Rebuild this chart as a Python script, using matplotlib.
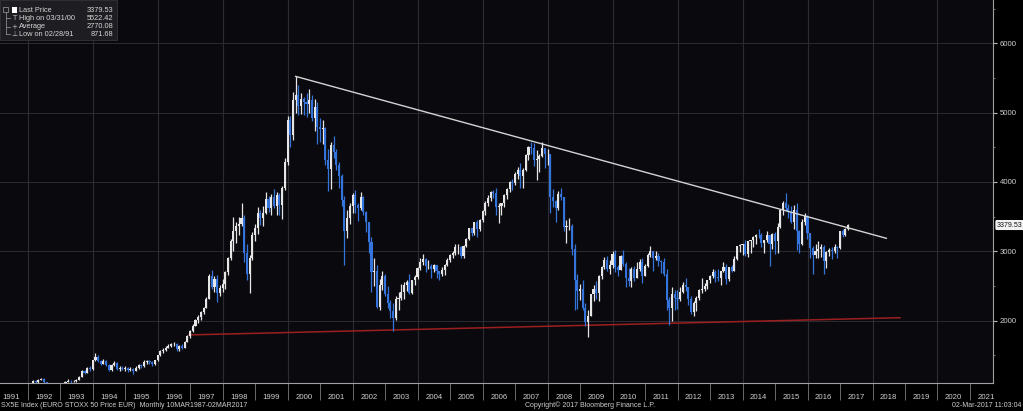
import numpy as np
import pandas as pd
import matplotlib
matplotlib.use("Agg")
import matplotlib.pyplot as plt
import matplotlib.dates as mdates
from matplotlib.patches import Rectangle
from matplotlib.lines import Line2D

plt.rcParams['font.family'] = ['Liberation Sans', 'DejaVu Sans']

# SX5E monthly bars, Jan 1992 .. Mar 2017 (month end)
first_open = 1000
closes = [
    1080, 1130, 1110, 1150, 1165, 1115, 1030, 990, 975, 985, 1005, 1035,      # 1992
    1060, 1120, 1135, 1125, 1130, 1150, 1195, 1275, 1245, 1320, 1300, 1433,   # 1993
    1480, 1420, 1380, 1420, 1360, 1290, 1360, 1390, 1300, 1320, 1310, 1320,   # 1994
    1290, 1310, 1280, 1320, 1360, 1340, 1410, 1420, 1400, 1370, 1430, 1507,   # 1995
    1560, 1580, 1610, 1640, 1660, 1670, 1590, 1640, 1610, 1700, 1780, 1850,   # 1996
    1930, 2010, 2060, 2120, 2180, 2320, 2640, 2480, 2600, 2400, 2470, 2530,   # 1997
    2700, 2900, 3150, 3300, 3360, 3400, 3480, 2980, 2670, 2900, 3230, 3340,   # 1998
    3550, 3480, 3560, 3760, 3620, 3790, 3660, 3810, 3670, 3920, 4290, 4900,   # 1999
    4680, 5180, 5250, 5100, 5200, 5150, 5120, 5180, 4920, 5080, 4790, 4770,   # 2000
    4780, 4320, 4190, 4530, 4430, 4240, 4090, 3740, 3300, 3480, 3660, 3810,   # 2001
    3670, 3630, 3780, 3570, 3430, 3130, 2700, 2710, 2200, 2520, 2650, 2390,   # 2002
    2250, 2140, 2040, 2320, 2330, 2420, 2520, 2560, 2400, 2580, 2630, 2760,   # 2003
    2840, 2890, 2790, 2790, 2740, 2810, 2720, 2670, 2730, 2810, 2880, 2950,   # 2004
    2980, 3060, 3060, 2930, 3080, 3180, 3330, 3260, 3430, 3320, 3450, 3580,   # 2005
    3690, 3770, 3850, 3840, 3640, 3650, 3690, 3810, 3900, 4000, 3990, 4120,   # 2006
    4180, 4090, 4180, 4390, 4510, 4490, 4320, 4330, 4380, 4490, 4400, 4400,   # 2007
    3790, 3720, 3630, 3830, 3780, 3350, 3370, 3370, 3040, 2590, 2430, 2450,   # 2008
    2180, 1980, 2070, 2380, 2450, 2400, 2640, 2780, 2870, 2750, 2800, 2960,   # 2009
    2780, 2730, 2930, 2820, 2610, 2570, 2740, 2620, 2750, 2840, 2650, 2790,   # 2010
    2950, 3010, 2910, 2940, 2860, 2850, 2670, 2300, 2180, 2390, 2330, 2320,   # 2011
    2420, 2510, 2480, 2310, 2120, 2260, 2330, 2440, 2450, 2500, 2580, 2640,   # 2012
    2700, 2630, 2620, 2710, 2770, 2600, 2770, 2720, 2890, 3070, 3090, 3110,   # 2013
    2960, 3150, 3160, 3200, 3240, 3230, 3120, 3170, 3230, 3110, 3250, 3150,   # 2014
    3350, 3600, 3700, 3620, 3570, 3420, 3600, 3290, 3100, 3420, 3510, 3270,   # 2015
    3050, 2950, 3000, 3030, 3060, 2860, 2990, 3020, 3000, 3060, 3050, 3290,   # 2016
    3230, 3320, 3379.53,                                                      # 2017
]
highs = [
    1100, 1150, 1145, 1160, 1180, 1170, 1120, 1050, 1010, 1020, 1020, 1045,
    1075, 1135, 1160, 1150, 1145, 1165, 1200, 1290, 1290, 1335, 1345, 1440,
    1530, 1500, 1440, 1450, 1430, 1380, 1370, 1420, 1400, 1350, 1350, 1340,
    1330, 1330, 1320, 1340, 1380, 1380, 1430, 1440, 1430, 1420, 1440, 1510,
    1580, 1600, 1630, 1660, 1680, 1690, 1680, 1650, 1660, 1710, 1790, 1870,
    1950, 2030, 2080, 2140, 2200, 2340, 2680, 2730, 2650, 2660, 2510, 2600,
    2720, 2920, 3180, 3490, 3420, 3500, 3700, 3520, 3100, 2950, 3280, 3400,
    3640, 3600, 3650, 3850, 3800, 3820, 3900, 3850, 3840, 3940, 4350, 4950,
    4950, 5300, 5522, 5400, 5280, 5230, 5290, 5340, 5250, 5200, 5150, 4920,
    4890, 4800, 4470, 4580, 4670, 4480, 4290, 4120, 3800, 3600, 3700, 3840,
    3880, 3690, 3860, 3800, 3580, 3420, 3200, 2900, 2800, 2600, 2720, 2670,
    2500, 2300, 2260, 2350, 2410, 2530, 2560, 2580, 2680, 2580, 2660, 2770,
    2900, 2960, 2910, 2880, 2820, 2820, 2810, 2720, 2770, 2820, 2900, 2960,
    3000, 3100, 3110, 3080, 3090, 3190, 3340, 3340, 3430, 3450, 3470, 3600,
    3720, 3810, 3870, 3890, 3910, 3690, 3700, 3820, 3910, 4020, 4040, 4140,
    4210, 4270, 4200, 4410, 4520, 4570, 4560, 4460, 4400, 4570, 4480, 4480,
    4400, 3900, 3740, 3870, 3910, 3790, 3450, 3480, 3390, 3100, 2680, 2530,
    2580, 2260, 2160, 2390, 2510, 2570, 2660, 2790, 2920, 2930, 2880, 3000,
    3020, 2800, 2950, 3020, 2840, 2760, 2770, 2790, 2850, 2890, 2900, 2820,
    2980, 3070, 3010, 3010, 2970, 2880, 2900, 2750, 2340, 2480, 2440, 2440,
    2480, 2560, 2610, 2480, 2350, 2290, 2350, 2450, 2620, 2550, 2580, 2660,
    2750, 2730, 2740, 2720, 2840, 2820, 2780, 2810, 2940, 3080, 3100, 3110,
    3160, 3150, 3170, 3220, 3250, 3320, 3270, 3170, 3290, 3230, 3260, 3280,
    3410, 3610, 3730, 3836, 3680, 3660, 3670, 3690, 3310, 3460, 3560, 3530,
    3270, 3070, 3110, 3150, 3110, 3090, 3010, 3050, 3060, 3110, 3080, 3300,
    3320, 3340, 3400,
]
lows = [
    1000, 1070, 1095, 1105, 1140, 1100, 1020, 970, 950, 960, 975, 995,
    1020, 1055, 1110, 1100, 1110, 1120, 1140, 1190, 1225, 1240, 1275, 1290,
    1420, 1400, 1360, 1370, 1340, 1270, 1280, 1350, 1290, 1280, 1290, 1270,
    1260, 1270, 1230, 1270, 1310, 1320, 1330, 1380, 1370, 1340, 1360, 1420,
    1490, 1540, 1560, 1600, 1620, 1640, 1560, 1570, 1590, 1600, 1690, 1750,
    1840, 1920, 1970, 2010, 2100, 2180, 2310, 2460, 2420, 2270, 2350, 2420,
    2450, 2660, 2880, 3000, 3120, 3240, 3360, 2850, 2580, 2400, 2880, 3150,
    3250, 3380, 3370, 3540, 3570, 3530, 3620, 3530, 3520, 3470, 3890, 4250,
    4500, 4600, 5000, 4970, 4980, 4960, 4940, 5000, 4880, 4740, 4550, 4580,
    4550, 4250, 3870, 3900, 4350, 4170, 3920, 3660, 2800, 3190, 3400, 3560,
    3550, 3440, 3590, 3520, 3280, 2970, 2420, 2500, 2190, 2150, 2440, 2360,
    2190, 2040, 1850, 2010, 2160, 2300, 2320, 2430, 2390, 2390, 2510, 2600,
    2730, 2800, 2700, 2740, 2620, 2700, 2620, 2580, 2650, 2660, 2790, 2840,
    2910, 2950, 2960, 2910, 2900, 3060, 3170, 3220, 3230, 3200, 3290, 3430,
    3530, 3650, 3730, 3770, 3520, 3410, 3520, 3640, 3760, 3860, 3880, 3950,
    4040, 3910, 3910, 4160, 4320, 4400, 4230, 4030, 4150, 4360, 4200, 4250,
    3550, 3640, 3430, 3590, 3740, 3300, 3120, 3310, 2950, 2160, 2170, 2300,
    2160, 1920, 1765, 2070, 2290, 2310, 2290, 2600, 2740, 2710, 2670, 2760,
    2700, 2640, 2730, 2790, 2480, 2500, 2490, 2570, 2610, 2720, 2550, 2640,
    2770, 2920, 2720, 2870, 2790, 2690, 2640, 2150, 1940, 2000, 2150, 2170,
    2280, 2400, 2430, 2230, 2090, 2070, 2140, 2300, 2400, 2430, 2460, 2550,
    2620, 2560, 2570, 2510, 2700, 2530, 2570, 2700, 2710, 2870, 2990, 2950,
    2940, 2920, 2980, 3060, 3110, 3190, 3060, 2980, 3140, 2790, 3040, 2960,
    2980, 3330, 3520, 3580, 3480, 3410, 3320, 3020, 2980, 3090, 3380, 3180,
    2900, 2672, 2900, 2900, 2920, 2678, 2760, 2940, 2890, 2970, 2910, 3030,
    3200, 3220, 3310,
]

# hand-drawn trend lines on the chart
top_trend_dates = ["2000-03-31", "2018-06-05"]
top_trend_values = [5522.42, 3188]
low_trend_dates = ["1996-12-18", "2018-11-06"]
low_trend_values = [1795, 2043]

legend_labels = ["Last Price", "High on 03/31/00", "Average", "Low on 02/28/91"]
legend_values = ["3379.53", "5522.42", "2770.08", "871.68"]

years = list(range(1991, 2022))
y_ticks = [2000, 3000, 4000, 5000, 6000]

W, H = 1023, 411
fig = plt.figure(figsize=(W / 100, H / 100), dpi=100, facecolor="black")
ax = fig.add_axes([0, 1 - 382.7 / H, 993 / W, 382.7 / H])
ax.set_facecolor("#0a0a0e")

dates = pd.date_range("1992-01-31", periods=len(closes), freq="ME")
x = mdates.date2num(dates.to_pydatetime())
c = np.array(closes, dtype=float)
o = np.concatenate([[first_open], c[:-1]])
up_col, down_col = "#e6e6e6", "#3474dc"
cols = np.where(c >= o, up_col, down_col)

ax.vlines(x, lows, highs, colors=cols, lw=0.9, zorder=3)
ax.bar(x, c - o, bottom=o, width=24, color=cols, linewidth=0, zorder=3)

# trend lines
ax.plot(mdates.datestr2num(top_trend_dates), top_trend_values, color="#d4d4d4", lw=1.0, zorder=4)
ax.plot(mdates.datestr2num(low_trend_dates), low_trend_values, color="#9c1f1f", lw=1.1, zorder=2)

# grid
for yv in y_ticks:
    ax.axhline(yv, color="#2c2c33", lw=0.7, zorder=1)
for yr in range(1992, 2021, 2):
    ax.axvline(mdates.datestr2num(f"{yr}-01-01"), color="#2c2c33", lw=0.8, zorder=1)

ax.set_xlim(mdates.datestr2num("1991-02-23"), mdates.datestr2num("2021-09-16"))
ax.set_ylim(1106, 6624)

# x axis: year separators + centred labels
ax.set_xticks(mdates.datestr2num([f"{yr}-01-01" for yr in years[1:]]))
ax.set_xticklabels([])
ax.set_xticks(mdates.datestr2num([f"{yr}-07-01" for yr in years]), minor=True)
ax.set_xticklabels([str(yr) for yr in years], minor=True)
ax.tick_params(axis="x", which="major", direction="out", length=12, width=0.6, color="#7a7a7a")
ax.tick_params(axis="x", which="minor", length=0, pad=8, labelsize=5.6, labelcolor="#cfcfcf")

# y axis on the right
ax.yaxis.tick_right()
ax.set_yticks(y_ticks)
ax.set_yticks([1500, 2500, 3500, 4500, 5500, 6500], minor=True)
ax.tick_params(axis="y", which="major", direction="out", length=3, width=0.8, color="#bbbbbb",
               pad=2, labelsize=5.6, labelcolor="#cfcfcf")
ax.tick_params(axis="y", which="minor", direction="out", length=1.5, width=0.6, color="#888888")

for side in ["left", "top"]:
    ax.spines[side].set_visible(False)
for side in ["right", "bottom"]:
    ax.spines[side].set_color("#a0a0a0")
    ax.spines[side].set_linewidth(0.8)

# last price tag
ax.annotate(f"{closes[-1]:.2f}", xy=(1, closes[-1]), xycoords=("axes fraction", "data"),
            xytext=(2.8, 0), textcoords="offset points", ha="left", va="center",
            fontsize=5, color="#111111", annotation_clip=False,
            bbox=dict(boxstyle="round,pad=0.12", fc="#f2f2f2", ec="#f2f2f2"))


def fx(px):
    return px / W


def fy(py):
    return 1 - py / H


# legend box top-left
fig.add_artist(Rectangle((0, fy(40)), fx(117), 40 / H, transform=fig.transFigure,
                         fc="#1e1e22", ec="#333338", lw=0.6, zorder=5))
rows = [10, 18.3, 26.7, 34.3]
for r, lab, val in zip(rows, legend_labels, legend_values):
    fig.text(fx(19), fy(r), lab, fontsize=5.3, color="#d6d6d6", va="center", ha="left", zorder=6)
    fig.text(fx(113), fy(r), val, fontsize=5.3, color="#d6d6d6", va="center", ha="right", zorder=6)
fig.add_artist(Rectangle((fx(12), fy(13)), fx(5), 6 / H, transform=fig.transFigure,
                         fc="white", ec="white", lw=0, zorder=6))
for r, sym in zip(rows[1:], ["T", "+", "\u22a5"]):
    fig.text(fx(14.5), fy(r), sym, fontsize=5, color="#bdbdbd", va="center", ha="center",
             family=["DejaVu Sans"], zorder=6)
fig.add_artist(Rectangle((fx(3), fy(12.5)), fx(5), 5 / H, transform=fig.transFigure,
                         fc="none", ec="#8a8a8a", lw=0.6, zorder=6))
fig.add_artist(Line2D([fx(5.5), fx(5.5)], [fy(12.5), fy(34.3)], transform=fig.transFigure,
                      color="#8a8a8a", lw=0.6, zorder=6))
for r in rows[1:]:
    fig.add_artist(Line2D([fx(5.5), fx(10)], [fy(r), fy(r)], transform=fig.transFigure,
                          color="#8a8a8a", lw=0.6, zorder=6))

# footer
fig.text(fx(1), fy(405.5), "SX5E Index (EURO STOXX 50 Price EUR)  Monthly 10MAR1987-02MAR2017",
         fontsize=5, color="#cfcfcf", va="center", ha="left")
fig.text(fx(590), fy(405.5), "Copyright\u00a9 2017 Bloomberg Finance L.P.",
         fontsize=5, color="#cfcfcf", va="center", ha="center")
fig.text(fx(1021), fy(405.5), "02-Mar-2017 11:03:04",
         fontsize=5, color="#cfcfcf", va="center", ha="right")

fig.savefig("out.png", dpi=100, facecolor="black")
